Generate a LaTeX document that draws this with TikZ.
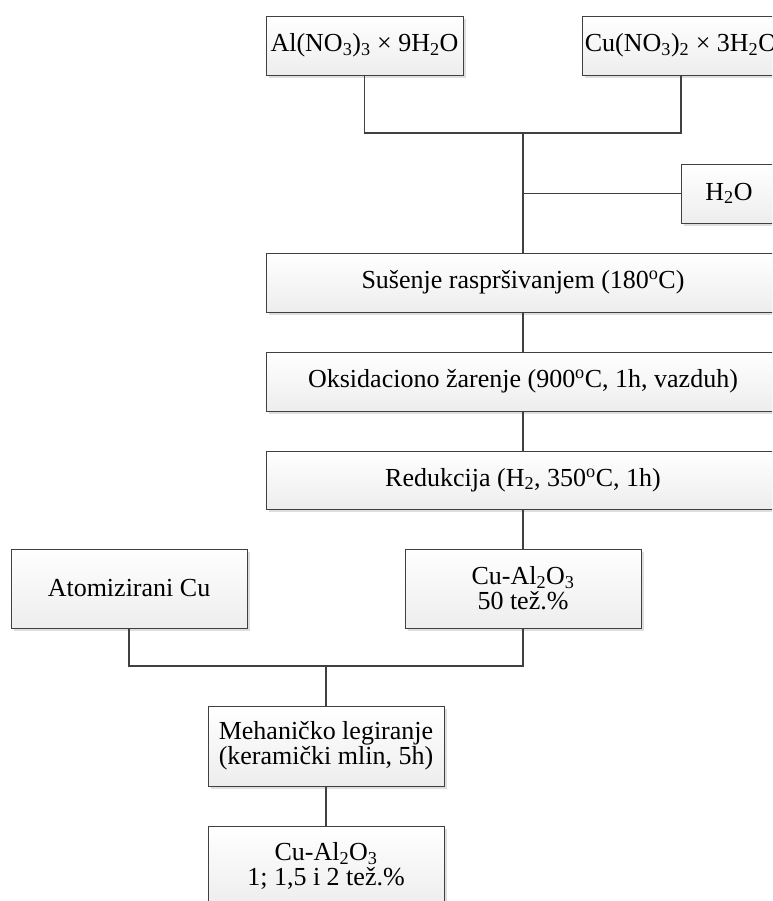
\documentclass[tikz,border=0pt]{standalone}
\usepackage{fontspec}
\setmainfont{Liberation Serif}
\usetikzlibrary{shadows}
\tikzset{
  procbox/.style={
    draw=black!75,
    line width=0.9pt,
    top color=white,
    bottom color=black!7,
    drop shadow={shadow xshift=3pt,shadow yshift=-3pt,fill=black!13,opacity=1},
    align=center,
    inner sep=0pt,
    font=\fontsize{26}{25}\selectfont
  },
  link/.style={
    draw=black!75,
    line width=1.5pt
  }
}

\begin{document}
\begin{tikzpicture}[x=1pt,y=-1pt]
  \useasboundingbox (0,0) rectangle (772,901);
  \clip (0,0) rectangle (772,901);

  % starting salts and water
  \node[procbox,minimum width=197pt,minimum height=59pt] (al) at (364.5,45.5)
    {Al(NO\textsubscript{3})\textsubscript{3} × 9H\textsubscript{2}O};
  \node[procbox,minimum width=198pt,minimum height=59pt] (cu) at (681,45.5)
    {Cu(NO\textsubscript{3})\textsubscript{2} × 3H\textsubscript{2}O};
  \node[procbox,minimum width=96pt,minimum height=59pt] (water) at (729,193.5)
    {H\textsubscript{2}O};

  % main line
  \node[procbox,minimum width=514pt,minimum height=59pt] (drying) at (523,282.5)
    {Sušenje raspršivanjem (180\textsuperscript{o}C)};
  \node[procbox,minimum width=514pt,minimum height=59pt] (oxid) at (523,381.5)
    {Oksidaciono žarenje (900\textsuperscript{o}C, 1h, vazduh)};
  \node[procbox,minimum width=514pt,minimum height=58pt] (reduk) at (523,480)
    {Redukcija (H\textsubscript{2}, 350\textsuperscript{o}C, 1h)};

  % milling
  \node[procbox,minimum width=236pt,minimum height=79pt] (atom) at (129,588.5)
    {Atomizirani Cu};
  \node[procbox,minimum width=236pt,minimum height=79pt] (master) at (523,588.5)
    {Cu-Al\textsubscript{2}O\textsubscript{3}\\50 tež.\%};
  \node[procbox,minimum width=236pt,minimum height=80pt] (milling) at (326,746)
    {Mehaničko legiranje\\(keramički mlin, 5h)};
  \node[procbox,minimum width=236pt,minimum height=80pt] (final) at (326,866)
    {Cu-Al\textsubscript{2}O\textsubscript{3}\\1; 1,5 i 2 tež.\%};

  \coordinate (jtop) at (523,133);
  \coordinate (jbot) at (326,666);

  \draw[link] (al.south) |- (jtop) -| (cu.south);
  \draw[link] (jtop) -- (drying.north);
  \draw[link] (water.west) -- (water.west -| jtop);
  \draw[link] (drying.south) -- (oxid.north);
  \draw[link] (oxid.south) -- (reduk.north);
  \draw[link] (reduk.south) -- (master.north);
  \draw[link] (atom.south) |- (jbot) -| (master.south);
  \draw[link] (jbot) -- (milling.north);
  \draw[link] (milling.south) -- (final.north);
\end{tikzpicture}
\end{document}
